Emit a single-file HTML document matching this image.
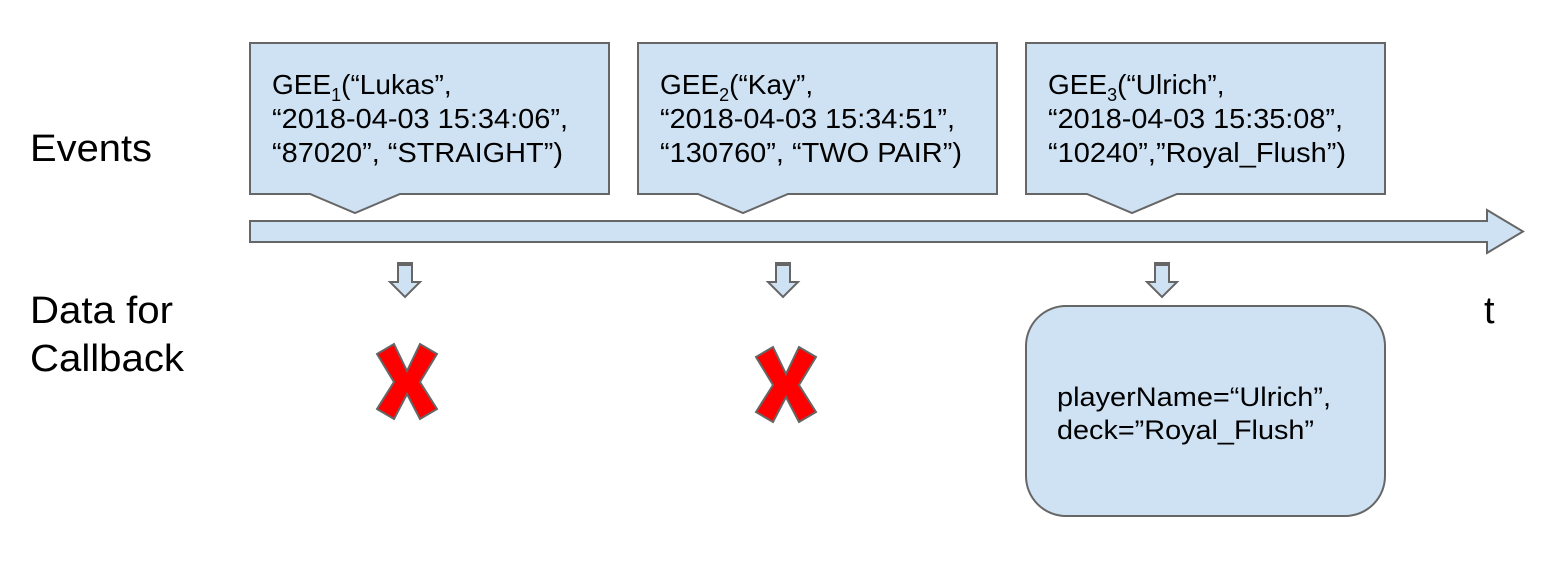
<!DOCTYPE html>
<html><head><meta charset="utf-8"><style>
html,body{margin:0;padding:0;background:#fff;}
svg text{font-family:"Liberation Sans",sans-serif;fill:#000;}
</style></head><body>
<svg width="1560" height="558" viewBox="0 0 1560 558" xmlns="http://www.w3.org/2000/svg">
<g fill="#cfe2f3" stroke="#666" stroke-width="2">
<path d="M250 43 H609 V194 H400 L355 213 L310 194 H250 Z"/>
<path d="M638 43 H997 V194 H788 L743 213 L698 194 H638 Z"/>
<path d="M1026 43 H1385 V194 H1177 L1132 213 L1087 194 H1026 Z"/>
<path d="M250 221 H1487 V210 L1523 231.5 L1487 253 V242 H250 Z"/>
<rect x="1026" y="306" width="359" height="210" rx="40" ry="40"/>
</g>
<g fill="#cfe2f3" stroke="#666" stroke-width="2">
<path d="M398 263 H412 V282 H420 L405 297 L390 282 H398 Z"/>
<path d="M776 263 H790 V282 H798 L783 297 L768 282 H776 Z"/>
<path d="M1155 263 H1169 V282 H1177 L1162 297 L1147 282 H1155 Z"/>
</g>
<g fill="#666">
<rect x="398" y="262" width="14" height="4"/>
<rect x="776" y="262" width="14" height="4"/>
<rect x="1155" y="262" width="14" height="4"/>
</g>
<g fill="#f00" stroke="#666" stroke-width="2">
<path transform="translate(377,344)" d="M0 10 L17 0 L30 27 L43 0 L60 10 L43 38 L60 65 L43 75 L30 50 L17 75 L0 65 L17 38 Z"/>
<path transform="translate(756,347)" d="M0 10 L17 0 L30 27 L43 0 L60 10 L43 38 L60 65 L43 75 L30 50 L17 75 L0 65 L17 38 Z"/>
</g>
<g font-size="28">
<text x="272" y="94">GEE<tspan font-size="18" dy="7">1</tspan><tspan dy="-7">(“Lukas”,</tspan></text>
<text x="272" y="128" textLength="296" lengthAdjust="spacingAndGlyphs">“2018-04-03 15:34:06”,</text>
<text x="272" y="162" textLength="291" lengthAdjust="spacingAndGlyphs">“87020”, “STRAIGHT”)</text>
<text x="660" y="94">GEE<tspan font-size="18" dy="7">2</tspan><tspan dy="-7">(“Kay”,</tspan></text>
<text x="660" y="128" textLength="295" lengthAdjust="spacingAndGlyphs">“2018-04-03 15:34:51”,</text>
<text x="660" y="162" textLength="302" lengthAdjust="spacingAndGlyphs">“130760”, “TWO PAIR”)</text>
<text x="1048" y="94">GEE<tspan font-size="18" dy="7">3</tspan><tspan dy="-7">(“Ulrich”,</tspan></text>
<text x="1048" y="128" textLength="295" lengthAdjust="spacingAndGlyphs">“2018-04-03 15:35:08”,</text>
<text x="1048" y="162" textLength="298" lengthAdjust="spacingAndGlyphs">“10240”,”Royal_Flush”)</text>
<text x="1057" y="406" font-size="27" textLength="274" lengthAdjust="spacingAndGlyphs">playerName=“Ulrich”,</text>
<text x="1057" y="439" font-size="27" textLength="257" lengthAdjust="spacingAndGlyphs">deck=”Royal_Flush”</text>
</g>
<g font-size="38">
<text x="30" y="161" textLength="122" lengthAdjust="spacingAndGlyphs">Events</text>
<text x="30" y="323" textLength="143" lengthAdjust="spacingAndGlyphs">Data for</text>
<text x="30" y="371" textLength="154" lengthAdjust="spacingAndGlyphs">Callback</text>
<text x="1484" y="323">t</text>
</g>
</svg>
</body></html>
